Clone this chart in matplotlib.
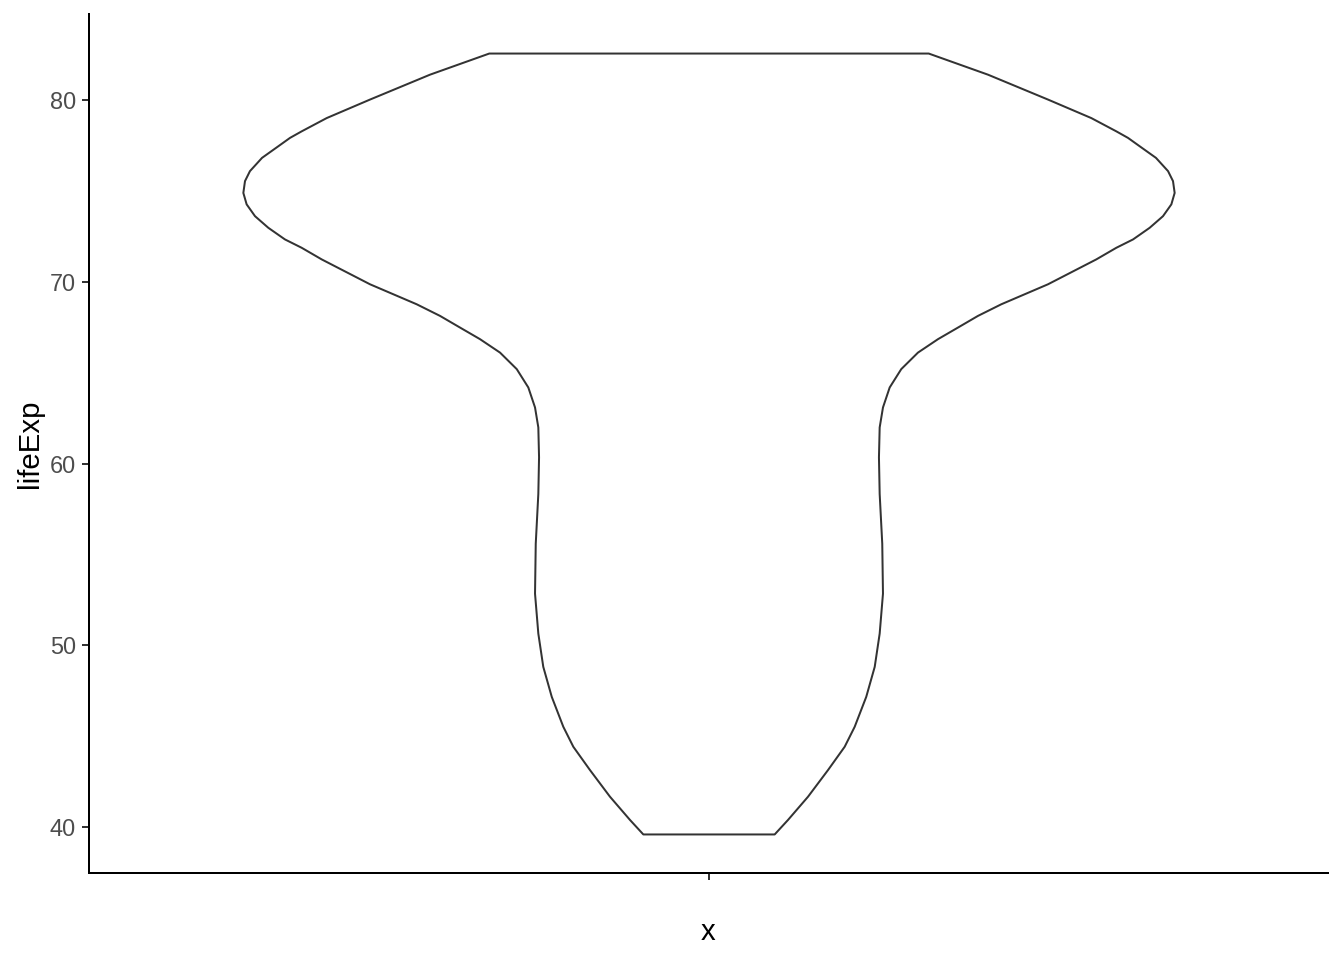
import matplotlib
matplotlib.use("Agg")
import matplotlib.pyplot as plt
import numpy as np

plt.rcParams['font.family'] = ['Liberation Sans', 'DejaVu Sans']

# violin outline: lifeExp level and half width (in x units, max 0.45)
violin_y = [39.613, 40.41, 41.69, 43.16, 44.44, 45.54, 47.19, 48.84, 50.67, 52.87,
            55.62, 58.36, 60.37, 62.02, 63.12, 64.22, 65.23, 66.14, 66.88, 67.52,
            68.16, 68.80, 69.90, 71.27, 71.91, 72.37, 73.01, 73.65, 74.30, 74.93,
            75.58, 76.13, 76.86, 77.50, 77.96, 78.32, 79.05, 80.07, 81.44, 82.603]
violin_halfwidth = [0.0636, 0.0765, 0.0959, 0.1153, 0.1314, 0.1411, 0.1523, 0.1605, 0.1653, 0.1685,
                    0.1678, 0.1653, 0.1646, 0.1653, 0.1685, 0.1750, 0.1862, 0.2024, 0.2218, 0.2412,
                    0.2605, 0.2831, 0.3283, 0.3751, 0.3945, 0.4107, 0.4268, 0.4397, 0.4478, 0.4510,
                    0.4494, 0.4446, 0.4329, 0.4171, 0.4058, 0.3945, 0.3703, 0.3283, 0.2702, 0.2128]
x_category = 1
y_ticks = [40, 50, 60, 70, 80]

fig = plt.figure(figsize=(7, 5), dpi=192)
ax = fig.add_axes([89 / 1344, 1 - 873 / 960, (1328 - 89) / 1344, (873 - 14) / 960])

y = np.array(violin_y)
hw = np.array(violin_halfwidth)
ax.fill_betweenx(y, x_category - hw, x_category + hw, facecolor='white',
                 edgecolor='#333333', linewidth=0.75, joinstyle='round')

rng = y.max() - y.min()
ax.set_ylim(y.min() - 0.05 * rng, y.max() + 0.05 * rng)
ax.set_xlim(0.4, 1.6)
ax.set_xticks([x_category])
ax.set_xticklabels([''])
ax.set_yticks(y_ticks)

for side in ['top', 'right']:
	ax.spines[side].set_visible(False)
for side in ['left', 'bottom']:
	ax.spines[side].set_linewidth(0.75)
	ax.spines[side].set_color('black')

ax.tick_params(length=2.75, width=0.75, color='#333333', labelcolor='#4D4D4D',
               labelsize=8.8, pad=2.2)
ax.set_xlabel('x', fontsize=11, labelpad=12)
ax.set_ylabel('lifeExp', fontsize=11, labelpad=2)

fig.savefig('out.png', dpi=192, facecolor='white')
